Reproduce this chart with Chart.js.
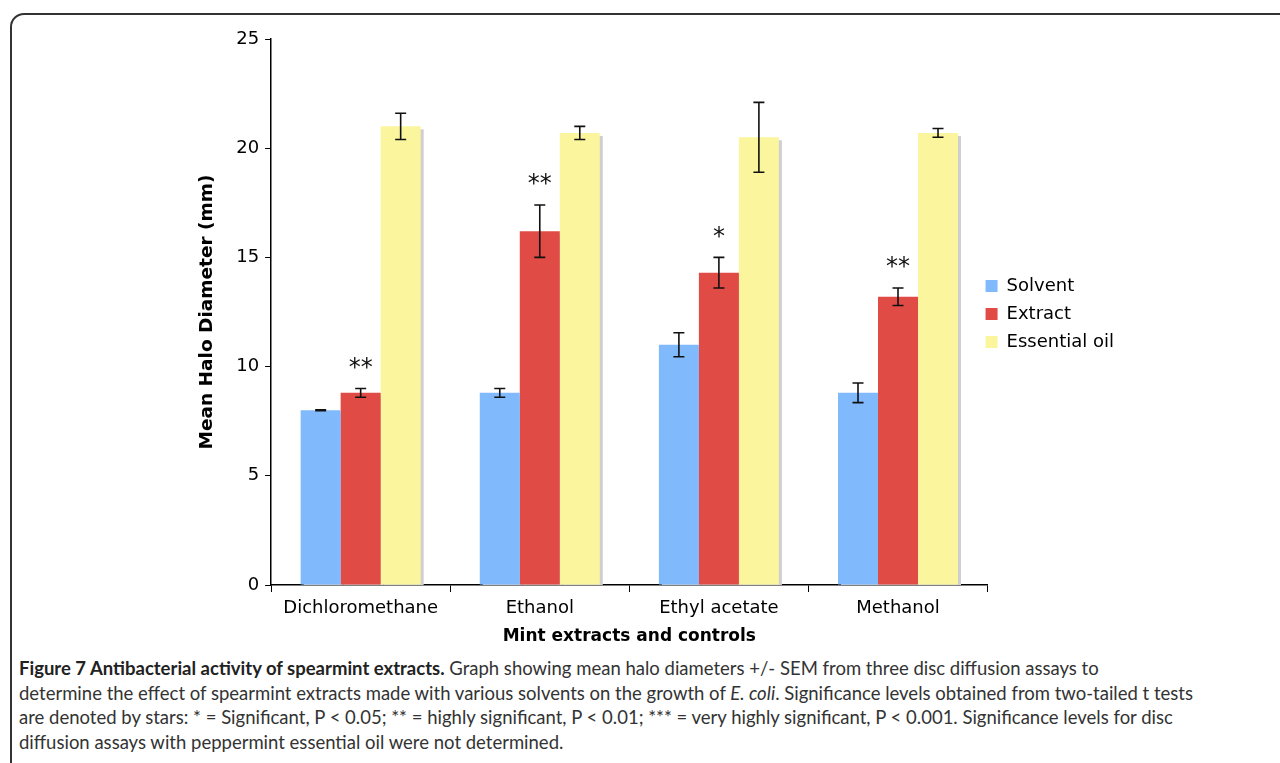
<!DOCTYPE html>
<html lang="en">
<head>
<meta charset="UTF-8">
<title>Figure 7 - Antibacterial activity of spearmint extracts</title>
<script src="https://cdn.jsdelivr.net/npm/chart.js"></script>
<style>
    body {
        margin: 0;
        background: #fff;
        width: 1280px;
        height: 763px;
        overflow: hidden;
        position: relative;
    }
    .frame {
        position: absolute;
        left: 10px;
        top: 13px;
        width: 1320px;
        height: 820px;
        border: 2px solid #333;
        border-radius: 14px;
    }
    .chart-box {
        position: absolute;
        left: 0;
        top: 0;
        width: 1280px;
        height: 651px;
    }
    .caption {
        position: absolute;
        left: 19px;
        top: 656px;
        font-family: Lato, sans-serif;
        font-size: 18.5px;
        line-height: 24.5px;
        color: #333;
        white-space: nowrap;
    }
    .caption b { color: #222; }
</style>
</head>
<body>
<div class="frame"></div>
<div class="chart-box">
    <canvas id="barChart"></canvas>
</div>
<div class="caption">
    <b>Figure 7 Antibacterial activity of spearmint extracts.</b> Graph showing mean halo diameters +/- SEM from three disc diffusion assays to<br>
    determine the effect of spearmint extracts made with various solvents on the growth of <i>E. coli</i>. Significance levels obtained from two-tailed t tests<br>
    are denoted by stars: * = Significant, P &lt; 0.05; ** = highly significant, P &lt; 0.01; *** = very highly significant, P &lt; 0.001. Significance levels for disc<br>
    diffusion assays with peppermint essential oil were not determined.
</div>

<script>
    const categories = ['Dichloromethane', 'Ethanol', 'Ethyl acetate', 'Methanol'];
    const seriesNames = ['Solvent', 'Extract', 'Essential oil'];

    const solvent = [8.0, 8.8, 11.0, 8.8];
    const solventErr = [0.02, 0.2, 0.55, 0.45];
    const extract = [8.8, 16.2, 14.3, 13.2];
    const extractErr = [0.2, 1.2, 0.7, 0.4];
    const oil = [21.0, 20.7, 20.5, 20.7];
    const oilErr = [0.6, 0.3, 1.6, 0.2];
    const extractStars = ['**', '**', '*', '**'];

    const yTicks = [0, 5, 10, 15, 20, 25];

    const axisFont = { family: 'DejaVu Sans', size: 18 };

    // grey drop shadow behind bars
    const shadowPlugin = {
        id: 'barShadow',
        beforeDatasetsDraw(chart) {
            const ctx = chart.ctx;
            const area = chart.chartArea;
            ctx.save();
            ctx.beginPath();
            ctx.rect(area.left, area.top, area.right - area.left + 10, area.bottom - area.top);
            ctx.clip();
            ctx.fillStyle = '#cfcfcf';
            chart.data.datasets.forEach((ds, i) => {
                chart.getDatasetMeta(i).data.forEach(bar => {
                    const p = bar.getProps(['x', 'y', 'width', 'base'], true);
                    ctx.fillRect(p.x - p.width / 2 + 3, p.y + 3, p.width, p.base - p.y);
                });
            });
            ctx.restore();
        }
    };

    // error bars and significance stars
    const errorPlugin = {
        id: 'errorBars',
        afterDatasetsDraw(chart) {
            const ctx = chart.ctx;
            const yScale = chart.scales.y;
            ctx.save();
            ctx.strokeStyle = '#111';
            ctx.lineWidth = 1.6;
            chart.data.datasets.forEach((ds, i) => {
                chart.getDatasetMeta(i).data.forEach((bar, j) => {
                    const v = ds.data[j];
                    const e = ds.errors[j];
                    const x = bar.x;
                    const yTop = yScale.getPixelForValue(v + e);
                    const yBot = yScale.getPixelForValue(v - e);
                    ctx.beginPath();
                    ctx.moveTo(x, yTop); ctx.lineTo(x, yBot);
                    ctx.moveTo(x - 5.5, yTop); ctx.lineTo(x + 5.5, yTop);
                    ctx.moveTo(x - 5.5, yBot); ctx.lineTo(x + 5.5, yBot);
                    ctx.stroke();
                    if (ds.stars && ds.stars[j]) {
                        ctx.fillStyle = '#111';
                        ctx.font = '24px "DejaVu Sans"';
                        ctx.textAlign = 'center';
                        ctx.textBaseline = 'bottom';
                        ctx.fillText(ds.stars[j], x, yTop - 8);
                    }
                });
            });
            ctx.restore();
        }
    };

    // nudge the legend up/left so it sits beside the plot like the original
    const legendShift = {
        id: 'legendShift',
        afterLayout(chart) {
            const lg = chart.legend;
            lg.top -= 31; lg.bottom -= 31;
            lg.left -= 12; lg.right -= 12;
        }
    };

    const ctx = document.getElementById('barChart').getContext('2d');
    new Chart(ctx, {
        type: 'bar',
        data: {
            labels: categories,
            datasets: [{
                label: seriesNames[0],
                data: solvent,
                errors: solventErr,
                backgroundColor: '#80b9fc'
            }, {
                label: seriesNames[1],
                data: extract,
                errors: extractErr,
                stars: extractStars,
                backgroundColor: '#e14b45'
            }, {
                label: seriesNames[2],
                data: oil,
                errors: oilErr,
                backgroundColor: '#fbf59d'
            }]
        },
        options: {
            responsive: true,
            maintainAspectRatio: false,
            animation: false,
            layout: {
                padding: { left: 192, top: 39, right: 144, bottom: 0 }
            },
            datasets: {
                bar: { categoryPercentage: 0.67, barPercentage: 1.0 }
            },
            scales: {
                x: {
                    grid: { display: true, drawOnChartArea: false, color: '#000', tickLength: 7, offset: true },
                    border: { display: true, color: '#000', width: 1.5 },
                    ticks: { color: '#000', font: axisFont, padding: 6 },
                    title: {
                        display: true,
                        text: 'Mint extracts and controls',
                        color: '#000',
                        font: { family: 'DejaVu Sans', size: 17, weight: 'bold' },
                        padding: { top: 1 }
                    }
                },
                y: {
                    min: 0,
                    max: 25,
                    afterBuildTicks: axis => { axis.ticks = yTicks.map(v => ({ value: v })); },
                    grid: { display: true, drawOnChartArea: false, color: '#000', tickLength: 6 },
                    border: { display: true, color: '#000', width: 1.5 },
                    ticks: { color: '#000', font: axisFont, padding: 6 },
                    title: {
                        display: true,
                        text: 'Mean Halo Diameter (mm)',
                        color: '#000',
                        font: { family: 'DejaVu Sans', size: 18.5, weight: 'bold' },
                        padding: { bottom: 12 }
                    }
                }
            },
            plugins: {
                legend: {
                    position: 'right',
                    labels: {
                        color: '#000',
                        font: axisFont,
                        boxWidth: 12,
                        boxHeight: 12,
                        padding: 10
                    }
                },
                tooltip: { enabled: false }
            }
        },
        plugins: [shadowPlugin, errorPlugin, legendShift]
    });
</script>
</body>
</html>
